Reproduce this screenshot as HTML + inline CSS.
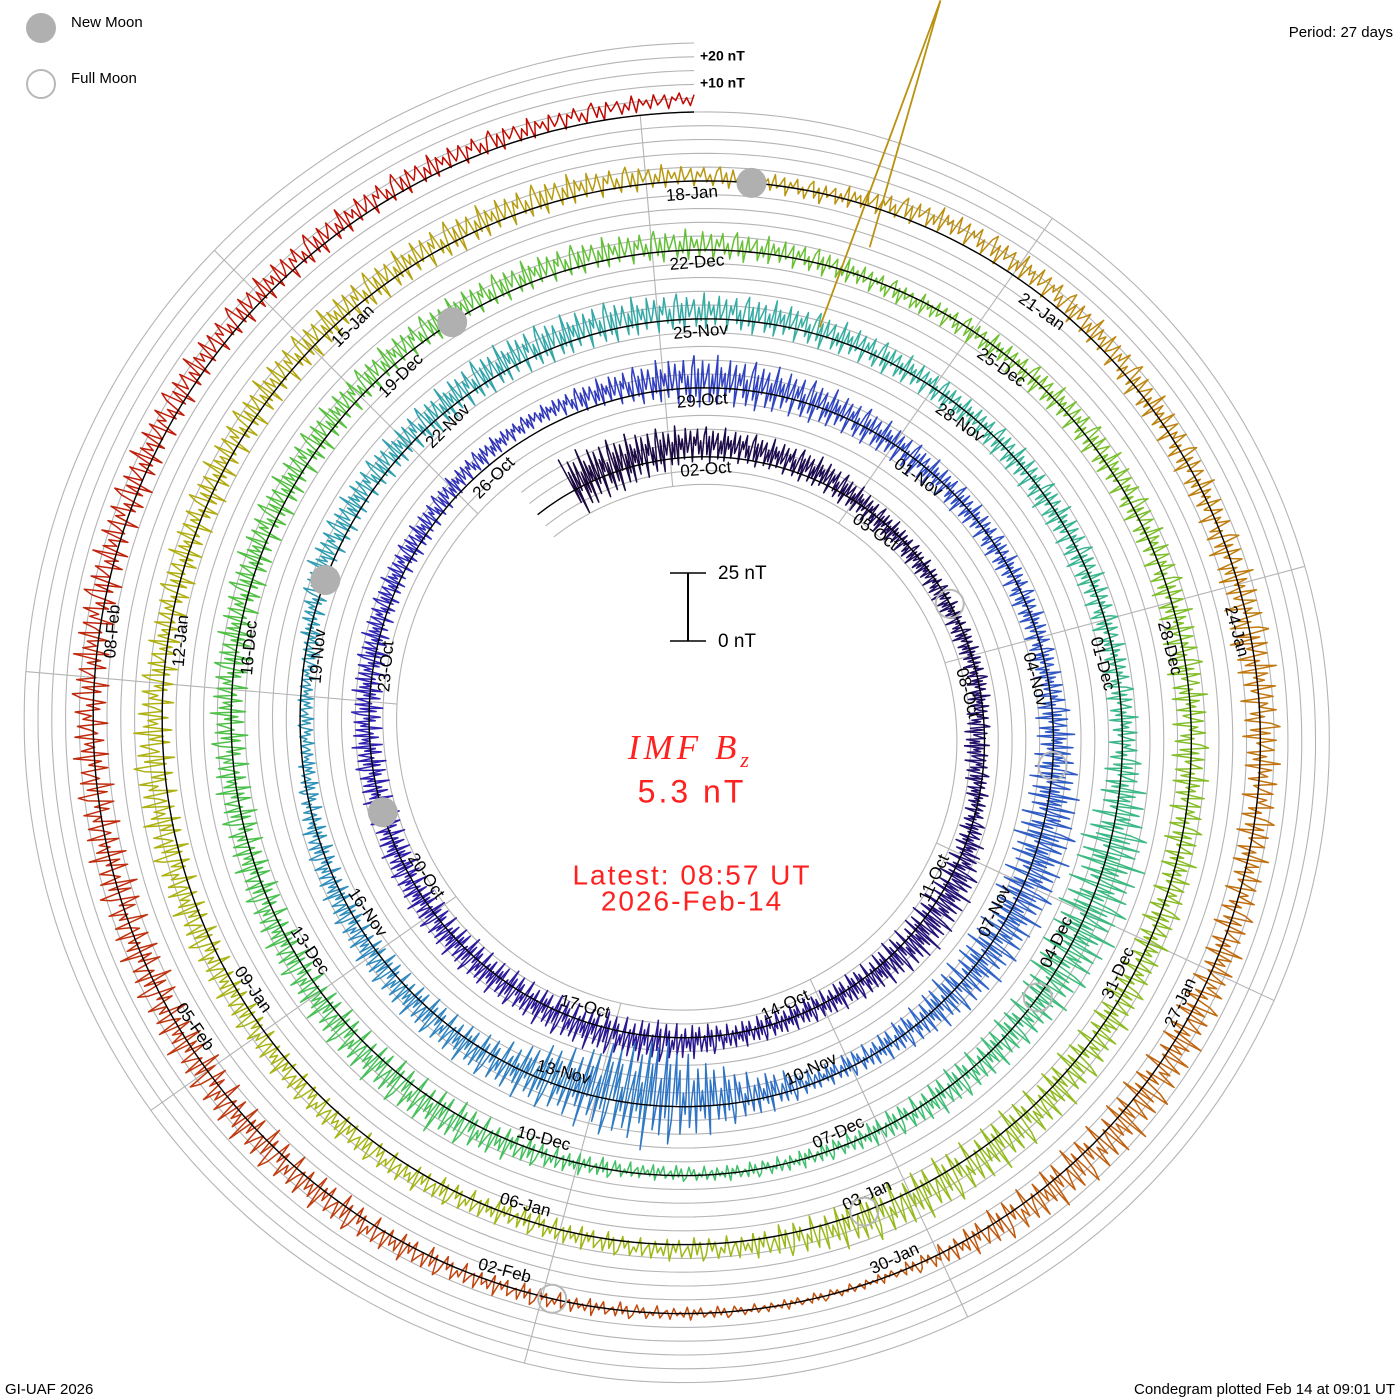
<!DOCTYPE html>
<html><head><meta charset="utf-8"><style>
html,body{margin:0;padding:0;background:#fff;}
svg{display:block;font-family:"Liberation Sans",sans-serif;}
</style></head><body>
<svg id="chart" width="1400" height="1400" viewBox="0 0 1400 1400">
<g id="grid"></g>
<g id="spokes"></g>
<g id="series"></g>
<g id="baseline"></g>
<g id="labels"></g>
<g id="moons"></g>

<g>
<circle cx="41" cy="28" r="15" fill="#b0b0b0"/>
<text x="71" y="23" font-size="15" dominant-baseline="middle">New Moon</text>
<circle cx="41" cy="84" r="14" fill="none" stroke="#b8b8b8" stroke-width="2"/>
<text x="71" y="79" font-size="15" dominant-baseline="middle">Full Moon</text>
</g>
<text x="1393" y="33" font-size="15" text-anchor="end" dominant-baseline="middle">Period: 27 days</text>
<text x="700" y="57" font-size="14" font-weight="bold" dominant-baseline="middle">+20 nT</text>
<text x="700" y="84" font-size="14" font-weight="bold" dominant-baseline="middle">+10 nT</text>

<g>
<line x1="688" y1="573" x2="688" y2="641" stroke="#000" stroke-width="2"/>
<line x1="670" y1="573" x2="706" y2="573" stroke="#000" stroke-width="1.5"/>
<line x1="670" y1="641" x2="706" y2="641" stroke="#000" stroke-width="1.5"/>
<text x="718" y="574" font-size="19" dominant-baseline="middle">25 nT</text>
<text x="718" y="642" font-size="19" dominant-baseline="middle">0 nT</text>
</g>
<text x="628" y="759" font-size="35" fill="#ff2020" font-style="italic" letter-spacing="4" font-family="Liberation Serif, serif">IMF B<tspan font-size="22" dy="8">z</tspan></text>
<text x="692" y="794" font-size="32" fill="#ff2020" text-anchor="middle" dominant-baseline="middle" letter-spacing="3">5.3 nT</text>
<text x="692" y="877" font-size="28" fill="#ff2020" text-anchor="middle" dominant-baseline="middle" letter-spacing="2">Latest: 08:57 UT</text>
<text x="692" y="903" font-size="28" fill="#ff2020" text-anchor="middle" dominant-baseline="middle" letter-spacing="2">2026-Feb-14</text>
<text x="5" y="1390" font-size="15" dominant-baseline="middle">GI-UAF 2026</text>
<text x="1395" y="1390" font-size="15" text-anchor="end" dominant-baseline="middle">Condegram plotted Feb 14 at 09:01 UT</text>
</svg>
<script>
// ---- data (days since 2 Oct 09:00 UT; first sample is day -2) ----
const dayMeans = [2,3,5,4,3,0,-1,-1,0,-3,0,3,3,1,0,1,2,2,1,1,1,0,1,1,2,2,4,5,4,3,2,1,0,0,0,0,1,2,2,1,0,-1,-2,-4,-2,2,2,2,1,-2,-2,3,3,2,3,3,3,2,1,0,0,0,0,1,2,2,1,1,0,0,-1,1,3,3,2,1,1,1,2,2,3,3,3,2,1,-1,0,1,1,0,0,1,1,2,3,3,2,2,0,3,3,2,3,4,1,1,2,2,2,3,2,0,5,4,1,0,0,1,1,2,3,2,0,0,0,1,2,2,1,0,1,2,2,3,2,3,3,5];
const daySpreads = [12,10,7,6,6,5,4,4,4,5,4,8,9,6,5,5,8,8,7,7,6,6,6,6,5,5,4,3,6,10,9,7,6,5,5,5,8,12,11,10,6,4,10,22,14,8,7,6,5,3,3,6,6,7,8,8,7,7,6,5,6,6,5,6,14,13,8,7,4,3,3,5,9,8,7,7,7,7,7,7,6,6,6,6,5,4,5,6,6,7,7,7,7,9,10,10,5,4,5,5,5,6,7,8,6,7,7,7,7,6,4,4,5,5,6,6,8,7,7,8,10,8,2,2,3,4,6,8,8,8,7,7,7,6,6,5,4,3];
const spikeDays = [109.4];
const spikeLow = [-48];
const spikeHigh = [80];
const newMoonDays = [19.14, 48.91, 78.70, 108.45];
const fullMoonDays = [4.78, 34.18, 63.59, 93.04, 122.55];
const monthNames = ["Oct","Nov","Dec","Jan","Feb"];
const monthLengths = [31,30,31,31,28];

// ---- geometry ----
const CX=694, CY=730, R0=273, PITCH=69, PERIOD=27, PXNT=2.72;
const GRIDSTEP=PITCH/5;
const D0=-2, DEND=135;
const NS="http://www.w3.org/2000/svg";
function ang(d){return (d/PERIOD)*2*Math.PI;}
function baseR(d){return R0+PITCH*d/PERIOD;}
function ptR(d,r){const a=ang(d);return [CX+r*Math.sin(a),CY-r*Math.cos(a)];}
function pt(d,v){return ptR(d,baseR(d)+v*PXNT);}
function mk(tag,attrs,parent){const e=document.createElementNS(NS,tag);for(const k in attrs)e.setAttribute(k,attrs[k]);parent.appendChild(e);return e;}

const stops=[[-3,[26,8,56]],[10,[36,18,122]],[20,[48,32,176]],[27,[48,64,192]],[38,[48,104,200]],[44,[48,136,192]],[50,[48,160,176]],[56,[56,176,160]],[66,[64,192,112]],[76,[80,192,64]],[85,[120,192,48]],[95,[160,184,24]],[102,[176,176,16]],[108,[184,152,16]],[114,[192,122,16]],[121,[192,80,16]],[127,[192,48,16]],[136,[192,0,0]]];
function colorAt(d){for(let i=0;i<stops.length-1;i++){const a=stops[i],b=stops[i+1];if(d<=b[0]){const f=Math.max(0,(d-a[0])/(b[0]-a[0]));const c=a[1].map((x,j)=>Math.round(x+(b[1][j]-x)*f));return `rgb(${c[0]},${c[1]},${c[2]})`;}}return "rgb(192,0,0)";}

// grid spirals (evenly spaced, 5 per turn, plus outer extension on last turn)
const grid=document.getElementById('grid');
function gridSpiral(k,dA,dB){
  let s="";
  for(let d=dA;d<=dB+0.001;d+=0.1){const p=ptR(d,baseR(d)+k*GRIDSTEP);s+=(s?"L":"M")+p[0].toFixed(1)+","+p[1].toFixed(1);}
  const g=mk('path',{d:s,fill:"none",stroke:"#b4b4b4","stroke-width":"1.1"},grid);
  
  
}
for(let k=-2;k<=2;k++) gridSpiral(k,-2.7,DEND);
for(let k=3;k<=5;k++) gridSpiral(k,DEND-PERIOD,DEND);
// spokes at 3-day ticks
const spokes=document.getElementById('spokes');
for(let j=0;j<9;j++){
  const d=3*j-0.375,a=ang(d);
  const dIn=d<-2.7?d+PERIOD:d;
  const r1=baseR(dIn)-2*GRIDSTEP, r2=baseR(dIn+4*PERIOD)+5*GRIDSTEP;
  const l=mk('line',{x1:CX+r1*Math.sin(a),y1:CY-r1*Math.cos(a),x2:CX+r2*Math.sin(a),y2:CY-r2*Math.cos(a),stroke:"#b4b4b4","stroke-width":"1.1"},spokes);
  
  
}
// series
const series=document.getElementById('series');
const pat=[0.9,-0.6,0.4,-1,0.7,-0.3,0.1,0.6,-0.8,0.2,-0.5,0.95,-0.9,0.5,-0.2,0.3,-0.7,0.8,-0.4,0.0,0.65,-0.95,0.35,-0.1,0.75,-0.55,0.15,-0.85,0.45];
const SUB=40;
const nDays=dayMeans.length;
let prev=null;
for(let i=0;i<nDays;i++){
  const dStart=D0+i; if(dStart>=DEND) break;
  let s="";
  if(prev) s="M"+prev[0].toFixed(1)+","+prev[1].toFixed(1);
  for(let k=0;k<=SUB;k++){
    const d=dStart+k/SUB; if(d>DEND) break;
    const j=Math.min(i+1,nDays-1),f=k/SUB;
    const m=dayMeans[i]+(dayMeans[j]-dayMeans[i])*f;
    const sp=daySpreads[i]+(daySpreads[j]-daySpreads[i])*f;
    const v=m+sp*pat[(i*SUB+k)%pat.length];
    const p=pt(d,v);
    s+=(s?"L":"M")+p[0].toFixed(1)+","+p[1].toFixed(1);
    prev=p;
  }
  const path=mk('path',{d:s,fill:"none",stroke:colorAt(dStart+0.5),"stroke-width":"1.5","stroke-linejoin":"round"},series);
  
  
}
for(let i=0;i<spikeDays.length;i++){
  const a=pt(spikeDays[i]-0.1,spikeLow[i]),b=pt(spikeDays[i],spikeHigh[i]),c=pt(spikeDays[i]+0.1,spikeLow[i]*0.3);
  const sp=mk('path',{d:`M${a[0]},${a[1]}L${b[0]},${b[1]}L${c[0]},${c[1]}`,fill:"none",stroke:colorAt(spikeDays[i]),"stroke-width":"1.8"},series);
  
  
}
// baseline
{
  let s="";
  for(let d=-2.7;d<=DEND+0.001;d+=0.1){const p=pt(d,0);s+=(s?"L":"M")+p[0].toFixed(1)+","+p[1].toFixed(1);}
  const b=mk('path',{d:s,fill:"none",stroke:"#000","stroke-width":"1.4"},document.getElementById('baseline'));
  
  
}
// date labels
const labels=document.getElementById('labels');
let mi=0,day=2;
for(let d=-0.375;d<130;d+=3){
  const txt=String(day).padStart(2,"0")+"-"+monthNames[mi];
  const deg=((d/PERIOD)*360)%360;
  const bottom=deg>90&&deg<270;
  const la=ang(d+(bottom?0.12:0.15)),r=baseR(d)-14;
  const x=CX+r*Math.sin(la),y=CY-r*Math.cos(la);
  const rot=bottom?deg-180:deg;
  const t=mk('text',{x:x.toFixed(1),y:y.toFixed(1),"font-size":"17","text-anchor":bottom?"end":"start","dominant-baseline":"middle",transform:`rotate(${rot.toFixed(1)} ${x.toFixed(1)} ${y.toFixed(1)})`},labels);
  t.textContent=txt;
  
  
  day+=3; if(day>monthLengths[mi]){day-=monthLengths[mi];mi++;}
}
// moons
const moons=document.getElementById('moons');
for(const d of newMoonDays){const p=pt(d,0);const c=mk('circle',{cx:p[0],cy:p[1],r:15,fill:"#b0b0b0"},moons);
  
  }
for(const d of fullMoonDays){const p=pt(d,0);const c=mk('circle',{cx:p[0],cy:p[1],r:14,fill:"none",stroke:"#b8b8b8","stroke-width":"2"},moons);
  
  }
</script>
</body></html>
